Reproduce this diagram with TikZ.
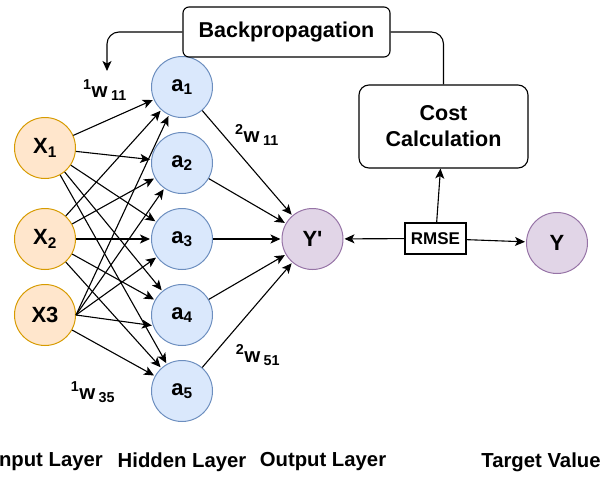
\documentclass[tikz,border=0pt]{standalone}
\usepackage{fontspec}
\setmainfont{Liberation Sans}[Ligatures=TeXOff]
\usetikzlibrary{arrows.meta}
\definecolor{inpline}{HTML}{D79B00}
\definecolor{inpfill}{HTML}{FFE6CC}
\definecolor{hidline}{HTML}{6C8EBF}
\definecolor{hidfill}{HTML}{DAE8FC}
\definecolor{outline}{HTML}{9673A6}
\definecolor{outfill}{HTML}{E1D5E7}
\tikzset{
  neuron/.style={circle, minimum size=61pt, inner sep=0pt, line width=1pt,
    font=\fontsize{22}{26}\selectfont\bfseries},
  inp/.style={neuron, draw=inpline, fill=inpfill},
  hid/.style={neuron, draw=hidline, fill=hidfill},
  outn/.style={neuron, draw=outline, fill=outfill},
  conn/.style={line width=1.1pt, -{Stealth[length=10pt,width=9pt,inset=2.5pt]}, shorten >=1pt},
  plain/.style={line width=1.1pt},
  lbl/.style={font=\fontsize{20.3}{24}\selectfont\bfseries, inner sep=0pt},
  wlbl/.style={font=\fontsize{20.5}{24}\selectfont\bfseries, inner sep=0pt},
  rbox/.style={draw, line width=1.1pt, rounded corners=6pt, inner sep=0pt,
    font=\fontsize{21.5}{26}\selectfont\bfseries, align=center}
}
\begin{document}
\begin{tikzpicture}[x=1pt,y=-1pt]
\useasboundingbox (0,0) rectangle (611,477);
% input
\node[inp] (x1) at (45,148) {X\textsubscript{1}};
\node[inp] (x2) at (45,239) {X\textsubscript{2}};
\node[inp] (x3) at (45,315) {X3};
% hidden
\node[hid] (a1) at (182,87) {a\textsubscript{1}};
\node[hid] (a2) at (182,163) {a\textsubscript{2}};
\node[hid] (a3) at (182,239) {a\textsubscript{3}};
\node[hid] (a4) at (182,315) {a\textsubscript{4}};
\node[hid] (a5) at (182,391) {a\textsubscript{5}};
% output
\node[outn] (yp) at (312.5,239) {Y'};
\node[outn] (y) at (557,243) {Y};
% boxes
\node[rbox, minimum width=207pt, minimum height=50pt] (bp) at (286.5,32) {Backpropagation};
\node[rbox, rounded corners=10pt, minimum width=169pt, minimum height=83pt] (cost) at (443.5,126.5) {Cost\\Calculation};
\node[draw, line width=1.1pt, minimum width=61pt, minimum height=31pt, inner sep=0pt,
  font=\fontsize{17}{20}\selectfont\bfseries] (rmse) at (435.5,238.5) {RMSE};
% input -> hidden
\foreach \h in {1,...,5} {
  \draw[conn] (x1) -- (a\h);
  \draw[conn] (x2) -- (a\h);
}
\foreach \h in {1,...,3} {
  \draw[conn] (x3.east) -- (a\h);
}
\draw[conn] (x3.east) -- (a4.200);
\draw[conn] (x3) -- (a5);
% hidden -> output
\foreach \h in {1,...,5} {
  \draw[conn] (a\h) -- (yp);
}
% RMSE
\draw[conn] (rmse) -- (yp);
\draw[conn] (rmse) -- (y);
\draw[conn, shorten >=0pt] (rmse) -- (cost);
% backprop
\coordinate (bptip) at (107,71);
\draw[conn, shorten >=0pt, rounded corners=12pt] (bp.west) -| (bptip);
\draw[plain, rounded corners=12pt] (bp.east) -| (cost.north);
% weight labels
\node[wlbl] (w111) at (105,90) {\textsuperscript{1}w\,\textsubscript{11}};
\node[wlbl] (w211) at (257,135) {\textsuperscript{2}w\,\textsubscript{11}};
\node[wlbl] (w251) at (258,355) {\textsuperscript{2}w\,\textsubscript{51}};
\node[wlbl] (w135) at (93,392) {\textsuperscript{1}w\,\textsubscript{35}};
% layer labels
\node[lbl, anchor=east] (lin) at (103,462) {Input Layer};
\node[lbl] (lhid) at (182,462) {Hidden Layer};
\node[lbl] (lout) at (323,462) {Output Layer};
\node[lbl] (ltar) at (541,462) {Target Value};
\end{tikzpicture}
\end{document}
